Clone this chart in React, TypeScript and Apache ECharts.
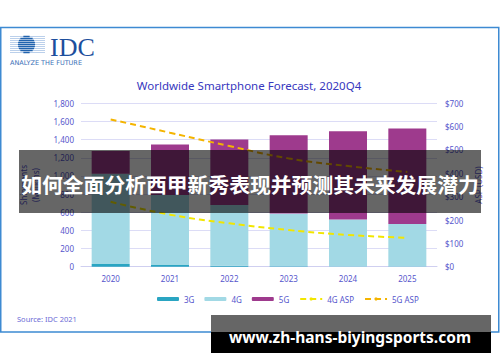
import React, { useEffect, useRef } from "react";
import * as echarts from "echarts";

const categories = ["2020", "2021", "2022", "2023", "2024", "2025"];
const shipments3G = [30, 20, 10, 5, 3, 2];
const shipments4G = [995, 770, 670, 582, 518, 468];
const shipments5G = [250, 556, 721, 862, 972, 1052];
const asp4G = [278, 223, 186, 157, 136, 124];
const asp5G = [631, 574, 517, 464, 431, 406];

const AXIS_COLOR = "#5656cc";
const FONT = "Noto Sans";

function logoElements() {
  const els: any[] = [];
  const cx = 26.5;
  const cy = 44.5;
  const r = 8.6;
  for (let y = 36.5; y <= 52.6; y += 2) {
    els.push({
      type: "line",
      shape: { x1: 10, y1: y, x2: 45, y2: y },
      style: { stroke: "#a9c4e6", lineWidth: 0.8 },
      silent: true,
    });
    const dy = y - cy;
    if (Math.abs(dy) < r) {
      const half = Math.sqrt(r * r - dy * dy);
      els.push({
        type: "line",
        shape: { x1: cx - half, y1: y, x2: cx + half, y2: y },
        style: { stroke: "#2063ae", lineWidth: 1.5 },
        silent: true,
      });
    }
  }
  return els;
}

export default function App() {
  const ref = useRef<HTMLDivElement>(null);
  useEffect(() => {
    if (!ref.current) return;
    const chart = echarts.init(ref.current, undefined, { renderer: "svg" });
    const option: any = {
      animation: false,
      backgroundColor: "#ffffff",
      textStyle: { fontFamily: FONT },
      grid: { left: 81, right: 63, top: 103.3, bottom: 95.3 },
      legend: {
        left: 152,
        top: 290,
        itemWidth: 22,
        itemHeight: 4,
        itemGap: 10,
        textStyle: { color: AXIS_COLOR, fontSize: 8, fontFamily: FONT },
        data: ["3G", "4G", "5G", "4G ASP", "5G ASP"],
      },
      xAxis: {
        type: "category",
        data: categories,
        axisLine: { show: true, lineStyle: { color: "#cfcff0" } },
        axisTick: { show: false },
        axisLabel: { color: AXIS_COLOR, fontSize: 8, margin: 8 },
      },
      yAxis: [
        {
          type: "value",
          min: 0,
          max: 1800,
          interval: 200,
          name: "Shipments\n(Millions)",
          nameLocation: "middle",
          nameGap: 40,
          nameRotate: 90,
          nameTextStyle: { color: AXIS_COLOR, fontSize: 8, lineHeight: 12 },
          axisLabel: {
            color: AXIS_COLOR,
            fontSize: 8,
            margin: 7,
            formatter: (v: number) => v.toLocaleString("en-US"),
          },
          splitLine: { lineStyle: { color: "#dcdcf6", width: 1 } },
          axisLine: { show: false },
          axisTick: { show: false },
        },
        {
          type: "value",
          min: 0,
          max: 700,
          interval: 100,
          position: "right",
          name: "ASP (USD)",
          nameLocation: "middle",
          nameGap: 33,
          nameRotate: 90,
          nameTextStyle: { color: AXIS_COLOR, fontSize: 8 },
          axisLabel: { color: AXIS_COLOR, fontSize: 8, margin: 8, formatter: "${value}" },
          splitLine: { show: false },
          axisLine: { show: false },
          axisTick: { show: false },
        },
      ],
      series: [
        {
          name: "3G",
          type: "bar",
          stack: "s",
          barWidth: 38,
          data: shipments3G,
          itemStyle: { color: "#2aa5c2" },
        },
        {
          name: "4G",
          type: "bar",
          stack: "s",
          barWidth: 38,
          data: shipments4G,
          itemStyle: { color: "#a2d9e5" },
        },
        {
          name: "5G",
          type: "bar",
          stack: "s",
          barWidth: 38,
          data: shipments5G,
          itemStyle: { color: "#9e3a8d" },
        },
        {
          name: "4G ASP",
          type: "line",
          yAxisIndex: 1,
          data: asp4G,
          symbol: "none",
          smooth: true,
          itemStyle: { color: "#f2e600" },
          lineStyle: { color: "#f2e600", width: 2, type: [6, 4] },
        },
        {
          name: "5G ASP",
          type: "line",
          yAxisIndex: 1,
          data: asp5G,
          symbol: "none",
          smooth: true,
          itemStyle: { color: "#f4b400" },
          lineStyle: { color: "#f4b400", width: 2, type: [6, 4] },
        },
      ],
      graphic: [
        {
          type: "rect",
          shape: { x: 0.75, y: 27.5, width: 498, height: 304.5 },
          style: { fill: "none", stroke: "#3d8ad2", lineWidth: 1.5 },
          z: -1,
          silent: true,
        },
        { type: "group", children: logoElements(), silent: true },
        {
          type: "text",
          x: 50,
          y: 47,
          style: {
            text: "IDC",
            fill: "#1d4f9d",
            font: "26px 'Liberation Serif'",
            verticalAlign: "middle",
          },
          silent: true,
        },
        {
          type: "text",
          x: 10,
          y: 62.5,
          style: {
            text: "ANALYZE THE FUTURE",
            fill: "#3a70b7",
            font: "6.5px 'DejaVu Sans'",
            verticalAlign: "middle",
          },
          silent: true,
        },
        {
          type: "text",
          x: 249,
          y: 85,
          style: {
            text: "Worldwide Smartphone Forecast, 2020Q4",
            fill: "#3737be",
            font: "11.5px 'Noto Sans'",
            align: "center",
            verticalAlign: "middle",
          },
          silent: true,
        },
        {
          type: "text",
          x: 17,
          y: 319,
          style: {
            text: "Source: IDC 2021",
            fill: "#6b6bd6",
            font: "7.5px 'Noto Sans'",
            verticalAlign: "middle",
          },
          silent: true,
        },
        {
          type: "rect",
          shape: { x: 19, y: 150, width: 462, height: 63 },
          style: { fill: "rgba(0,0,0,0.6)" },
          z: 100,
          silent: true,
        },
        {
          type: "text",
          x: 250,
          y: 184,
          style: {
            text: "如何全面分析西甲新秀表现并预测其未来发展潜力",
            fill: "#ffffff",
            font: "bold 20.8px 'Noto Sans CJK SC'",
            align: "center",
            verticalAlign: "middle",
          },
          z: 101,
          silent: true,
        },
        {
          type: "rect",
          shape: { x: 211, y: 315, width: 280, height: 17 },
          style: { fill: "#666666" },
          z: 100,
          silent: true,
        },
        {
          type: "rect",
          shape: { x: 211, y: 332, width: 280, height: 21 },
          style: { fill: "#000000" },
          z: 100,
          silent: true,
        },
        {
          type: "text",
          x: 350,
          y: 337,
          style: {
            text: "www.zh-hans-biyingsports.com",
            fill: "#ffffff",
            font: "bold 15.5px 'Noto Sans'",
            align: "center",
            verticalAlign: "middle",
          },
          z: 101,
          silent: true,
        },
      ],
    };
    chart.setOption(option);
    return () => chart.dispose();
  }, []);
  return (
    <div
      ref={ref}
      style={{ position: "absolute", left: 0, top: 0, width: 500, height: 362, background: "#fff" }}
    />
  );
}
